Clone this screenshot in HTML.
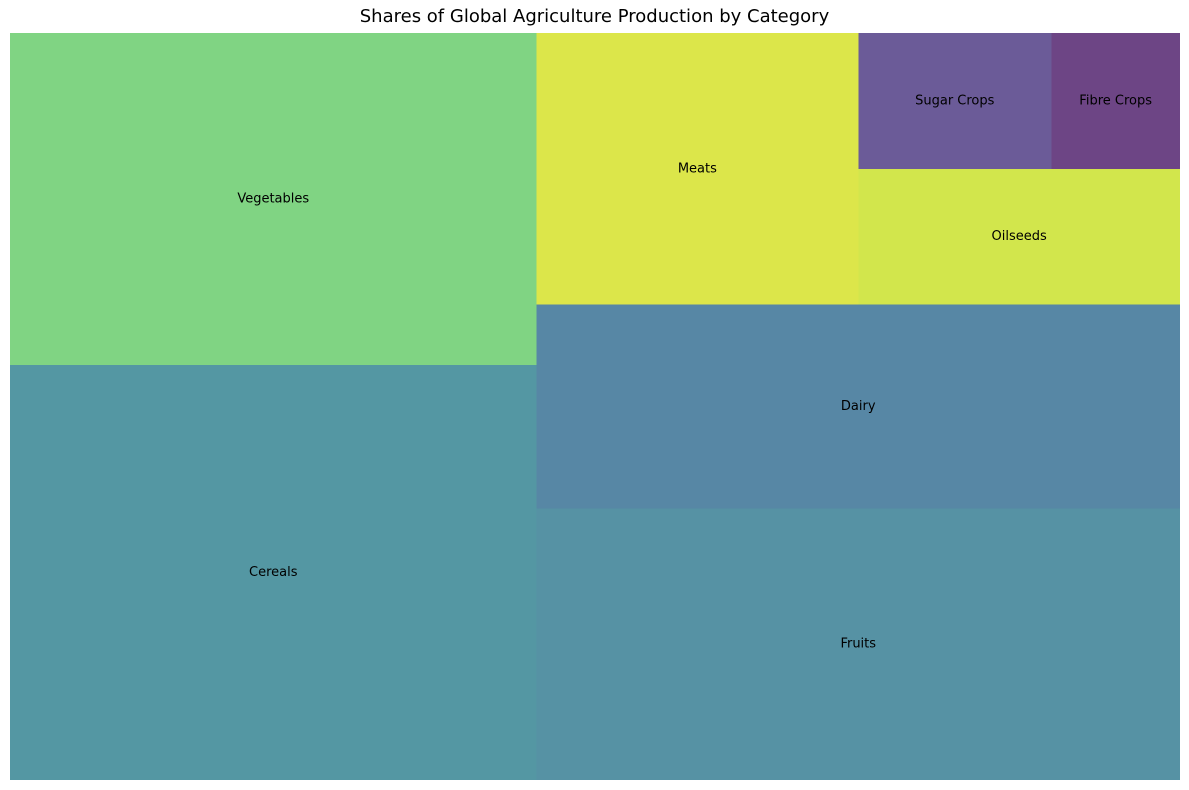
<!DOCTYPE html>
<html><head><meta charset="utf-8">
<style>
html,body{margin:0;padding:0;background:#fff;}
body{width:1189px;height:790px;position:relative;overflow:hidden;font-family:"DejaVu Sans","Liberation Sans",sans-serif;}
#title{position:absolute;left:0;width:1189px;top:6px;text-align:center;font-size:18px;color:#000;}
</style></head>
<body>
<div id="title">Shares of Global Agriculture Production by Category</div>
<svg id="chart" width="1189" height="790" style="position:absolute;left:0;top:0" shape-rendering="crispEdges"></svg>
<script>
const categories = ["Cereals","Vegetables","Fruits","Dairy","Meats","Oilseeds","Sugar Crops","Fibre Crops"];
const shares = [25,20,20,15,10,5,3,2];
const colors = ["#5497a3","#80d483","#5692a4","#5787a5","#dce64a","#d2e64c","#6b5b98","#6d4585"];

const X0=10, X1=1180, Y0=33, Y1=780;
function px(x){return X0 + x/100*(X1-X0);}
function py(y){return Y1 - y/100*(Y1-Y0);}

function layoutrow(s,x,y,dx,dy){const c=s.reduce((a,b)=>a+b,0);const w=c/dy;const r=[];for(const v of s){r.push({x:x,y:y,dx:w,dy:v/w});y+=v/w;}return r;}
function layoutcol(s,x,y,dx,dy){const c=s.reduce((a,b)=>a+b,0);const h=c/dx;const r=[];for(const v of s){r.push({x:x,y:y,dx:v/h,dy:h});x+=v/h;}return r;}
function layout(s,x,y,dx,dy){return dx>=dy?layoutrow(s,x,y,dx,dy):layoutcol(s,x,y,dx,dy);}
function leftover(s,x,y,dx,dy){const c=s.reduce((a,b)=>a+b,0);if(dx>=dy){const w=c/dy;return [x+w,y,dx-w,dy];}const h=c/dx;return [x,y+h,dx,dy-h];}
function worst(s,x,y,dx,dy){return Math.max(...layout(s,x,y,dx,dy).map(r=>Math.max(r.dx/r.dy,r.dy/r.dx)));}
function squarify(s,x,y,dx,dy){
  if(s.length===0)return [];
  if(s.length===1)return layout(s,x,y,dx,dy);
  let i=1;
  while(i<s.length && worst(s.slice(0,i),x,y,dx,dy)>=worst(s.slice(0,i+1),x,y,dx,dy)) i++;
  const cur=s.slice(0,i), rem=s.slice(i);
  const lo=leftover(cur,x,y,dx,dy);
  return layout(cur,x,y,dx,dy).concat(squarify(rem,lo[0],lo[1],lo[2],lo[3]));
}
const total=shares.reduce((a,b)=>a+b,0);
const norm=shares.map(v=>v*100*100/total);
const rects=squarify(norm,0,0,100,100);
const svg=document.getElementById('chart');
const NS="http://www.w3.org/2000/svg";
rects.forEach((r,i)=>{
  const g=document.createElementNS(NS,'g');
  const rect=document.createElementNS(NS,'rect');
  const x=px(r.x), y=py(r.y+r.dy), w=px(r.x+r.dx)-x, h=py(r.y)-y;
  rect.setAttribute('x',x);rect.setAttribute('y',y);
  rect.setAttribute('width',w);rect.setAttribute('height',h);
  rect.setAttribute('fill',colors[i]);
  
  
  const t=document.createElementNS(NS,'text');
  t.setAttribute('x',x+w/2);t.setAttribute('y',y+h/2);
  t.setAttribute('text-anchor','middle');t.setAttribute('dominant-baseline','central');
  t.setAttribute('font-size','13');t.setAttribute('fill','#000');
  t.setAttribute('shape-rendering','auto');
  t.setAttribute('font-family','DejaVu Sans, Liberation Sans, sans-serif');
  t.textContent=categories[i];
  
  
  g.appendChild(rect);g.appendChild(t);svg.appendChild(g);
});
</script>
</body></html>
